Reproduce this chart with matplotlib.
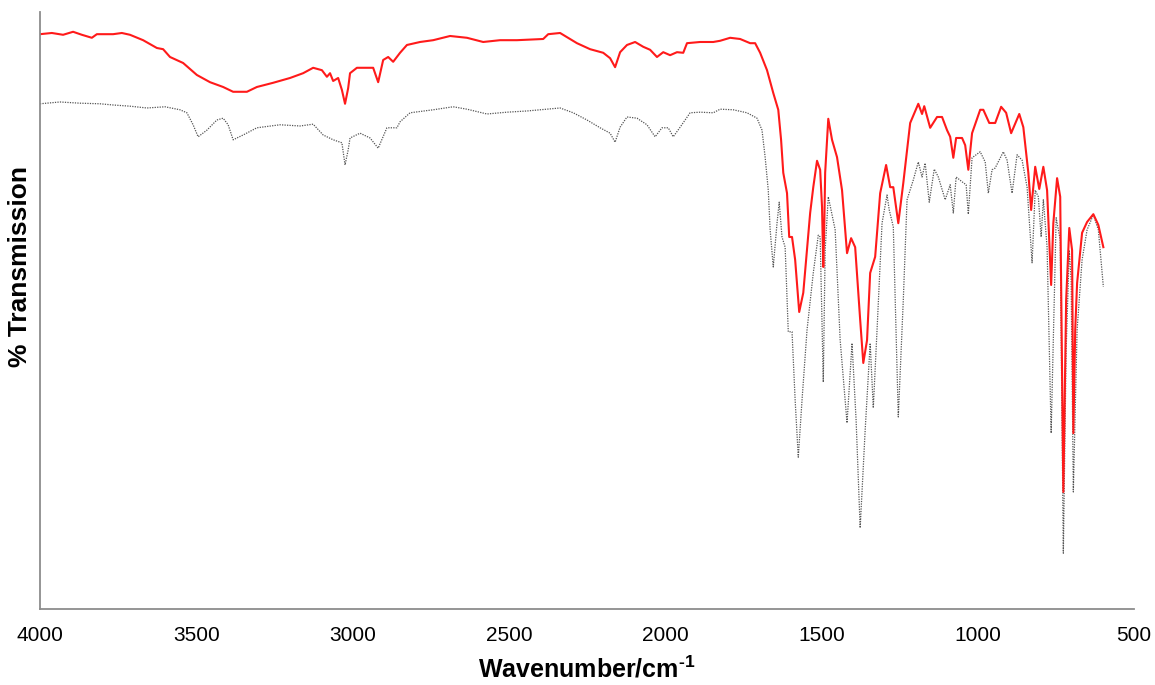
import matplotlib.pyplot as plt

# FTIR spectra: product (red) and starting material (dotted grey)
product_wn = [4000, 3962, 3926, 3894, 3866, 3834, 3818, 3766, 3738, 3712, 3670, 3626,
              3606, 3584, 3542, 3498, 3456, 3414, 3382, 3338, 3306, 3254, 3200, 3158,
              3126, 3098, 3082, 3072, 3062, 3046, 3034, 3024, 3014, 3008, 2986, 2934,
              2918, 2902, 2886, 2870, 2848, 2826, 2784, 2742, 2688, 2634, 2582, 2528,
              2474, 2390, 2374, 2336, 2314, 2282, 2240, 2198, 2176, 2160, 2144, 2122,
              2096, 2070, 2048, 2026, 2006, 1984, 1962, 1942, 1930, 1888, 1846, 1824,
              1792, 1760, 1728, 1712, 1696, 1674, 1654, 1638, 1629, 1622, 1610, 1603,
              1594, 1584, 1571, 1558, 1536, 1526, 1514, 1504, 1498, 1494, 1491, 1488,
              1478, 1466, 1450, 1434, 1418, 1405, 1392, 1376, 1366, 1354, 1344, 1328,
              1312, 1293, 1280, 1270, 1254, 1238, 1216, 1190, 1178, 1171, 1152, 1130,
              1114, 1098, 1088, 1078, 1069, 1050, 1040, 1030, 1018, 992, 982, 963,
              944, 925, 909, 893, 867, 854, 838, 829, 816, 803, 790, 778,
              765, 758, 746, 736, 726, 717, 707, 698, 694, 688, 682, 666,
              650, 630, 614, 598]
product_t = [95.8, 96.0, 95.7, 96.2, 95.7, 95.2, 95.8, 95.8, 96.0, 95.7, 94.8, 93.5,
             93.3, 92.0, 91.0, 89.0, 87.8, 87.0, 86.2, 86.2, 87.0, 87.7, 88.5, 89.3,
             90.2, 89.8, 88.7, 89.3, 88.0, 88.5, 86.5, 84.2, 86.8, 89.3, 90.2, 90.2,
             87.8, 91.5, 92.0, 91.2, 92.7, 94.0, 94.5, 94.8, 95.5, 95.2, 94.5, 94.8,
             94.8, 95.0, 95.8, 96.0, 95.3, 94.3, 93.3, 92.7, 91.8, 90.3, 92.8, 94.0,
             94.5, 93.7, 93.2, 92.0, 92.8, 92.3, 92.8, 92.7, 94.3, 94.5, 94.5, 94.7,
             95.2, 95.0, 94.3, 94.3, 92.7, 89.8, 86.0, 83.2, 78.2, 72.7, 69.3, 62.0,
             62.0, 58.2, 49.5, 52.7, 66.0, 70.3, 74.7, 73.2, 67.0, 57.0, 63.2, 72.7,
             81.7, 78.2, 75.3, 69.8, 59.3, 61.8, 60.3, 48.2, 41.0, 44.8, 56.0, 58.7,
             69.3, 74.0, 70.3, 70.3, 64.3, 71.0, 81.0, 84.2, 82.5, 83.8, 80.2, 82.0,
             82.0, 79.8, 78.7, 75.2, 78.5, 78.5, 77.3, 73.2, 79.3, 83.2, 83.2, 81.0,
             81.0, 83.7, 82.7, 79.3, 82.5, 80.3, 72.7, 66.5, 73.7, 70.0, 73.7, 69.8,
             54.0, 64.3, 71.8, 68.7, 19.5, 51.5, 63.5, 59.8, 29.3, 46.5, 54.3, 62.7,
             64.5, 65.8, 64.0, 60.3]

start_wn = [4000, 3936, 3872, 3808, 3766, 3712, 3658, 3600, 3552, 3530, 3510, 3494,
            3466, 3434, 3414, 3398, 3382, 3350, 3306, 3232, 3168, 3126, 3094, 3062,
            3034, 3024, 3014, 3008, 2976, 2944, 2918, 2890, 2858, 2848, 2816, 2742,
            2678, 2634, 2570, 2506, 2442, 2378, 2336, 2294, 2250, 2208, 2176, 2160,
            2144, 2122, 2090, 2058, 2032, 2010, 1990, 1974, 1952, 1920, 1888, 1846,
            1824, 1782, 1738, 1706, 1690, 1680, 1670, 1664, 1654, 1642, 1635, 1626,
            1616, 1606, 1594, 1584, 1574, 1562, 1546, 1526, 1510, 1504, 1494, 1488,
            1478, 1456, 1440, 1418, 1402, 1389, 1376, 1360, 1344, 1334, 1322, 1306,
            1290, 1283, 1270, 1254, 1238, 1226, 1206, 1190, 1178, 1168, 1155, 1139,
            1126, 1104, 1088, 1078, 1069, 1050, 1037, 1030, 1018, 992, 976, 966,
            954, 944, 918, 906, 890, 874, 858, 842, 826, 816, 806, 797,
            790, 778, 765, 749, 736, 726, 717, 707, 701, 694, 682, 666,
            650, 630, 614, 598]
start_t = [84.2, 84.5, 84.3, 84.2, 84.0, 83.8, 83.5, 83.7, 83.2, 82.7, 80.7, 78.7,
           79.8, 81.5, 81.8, 80.7, 78.2, 79.0, 80.2, 80.7, 80.5, 80.8, 79.0, 78.2,
           77.7, 74.0, 76.5, 78.5, 79.3, 78.5, 76.8, 80.2, 80.2, 81.2, 82.7, 83.2,
           83.7, 83.3, 82.5, 82.8, 83.0, 83.3, 83.5, 82.7, 81.5, 80.2, 79.3, 77.8,
           80.3, 82.0, 81.8, 80.7, 78.7, 80.2, 80.2, 78.7, 80.3, 82.7, 82.8, 82.7,
           83.3, 83.2, 82.7, 81.8, 79.8, 75.3, 69.8, 63.2, 57.0, 64.3, 67.8, 62.0,
           60.3, 46.2, 46.2, 34.8, 25.3, 34.8, 46.5, 56.0, 62.3, 62.0, 37.8, 59.8,
           68.7, 63.2, 44.8, 31.0, 44.3, 31.5, 13.5, 29.8, 44.3, 33.5, 46.5, 64.3,
           69.0, 66.5, 63.7, 32.0, 51.5, 68.2, 71.5, 74.5, 72.0, 74.3, 67.8, 73.3,
           72.0, 68.2, 70.7, 66.0, 72.0, 71.2, 70.7, 65.8, 75.2, 76.2, 74.5, 69.3,
           73.2, 73.5, 76.2, 74.8, 69.3, 75.7, 74.8, 70.3, 57.7, 69.8, 68.7, 62.0,
           68.2, 60.3, 29.3, 65.2, 61.5, 9.3, 43.2, 59.8, 54.8, 19.5, 46.5, 58.2,
           63.2, 65.7, 63.2, 53.7]

xticks = [4000, 3500, 3000, 2500, 2000, 1500, 1000, 500]

plt.rcParams['mathtext.fontset'] = 'custom'
plt.rcParams['mathtext.rm'] = 'Liberation Sans:bold'

fig = plt.figure(figsize=(11.55, 6.85), dpi=100)
ax = fig.add_axes([0.0346, 0.111, 0.9472, 0.8715])

ax.plot(start_wn, start_t, color='#555555', linestyle=(0, (1, 1)), linewidth=0.9)
ax.plot(product_wn, product_t, color='#ff1a1a', linewidth=1.5)

ax.set_xlim(4000, 500)
ax.set_ylim(0, 99.5)
ax.set_xticks(xticks)
ax.set_xticklabels([str(t) for t in xticks], family='Liberation Sans', fontsize=15)
ax.tick_params(axis='x', length=0, pad=12)
ax.set_yticks([])

for side in ['top', 'right']:
    ax.spines[side].set_visible(False)
for side in ['left', 'bottom']:
    ax.spines[side].set_color('#8c8c8c')
    ax.spines[side].set_linewidth(1.3)

ax.set_xlabel(r'Wavenumber/cm$^{\text{-1}}$', fontsize=18, fontweight='bold',
              family='Liberation Sans', labelpad=8)
ax.set_ylabel('% Transmission', fontsize=19, fontweight='bold',
              family='Liberation Sans')
ax.yaxis.set_label_coords(-0.007, 0.573)

fig.savefig('out.png', dpi=100)
